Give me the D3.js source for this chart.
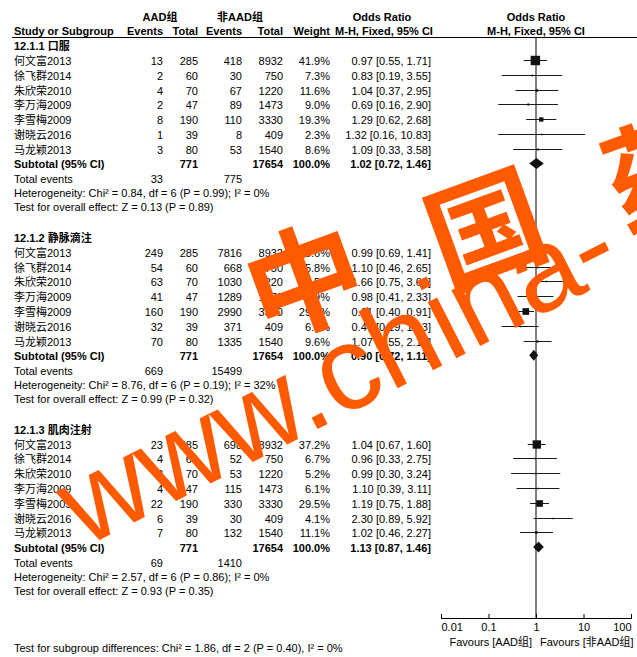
<!DOCTYPE html>
<html>
<head>
<meta charset="utf-8">
<script src="https://cdn.jsdelivr.net/npm/d3@7"></script>
<style>
  html, body { margin: 0; padding: 0; background: #fff; }
  svg { display: block; }
  text { font-family: "Liberation Sans", Arial, "Noto Sans CJK SC", sans-serif; font-size: 11px; fill: #000; }
  .b { font-weight: bold; }
</style>
</head>
<body>
<div id="chart"></div>
<script>
// ---- data ----
const groups = ['12.1.1 口服', '12.1.2 静脉滴注', '12.1.3 肌肉注射'];
const studies = ['何文富2013', '徐飞群2014', '朱欣荣2010', '李万海2009', '李雪梅2009', '谢晓云2016', '马龙颖2013'];

const aadTotal = [285, 60, 70, 47, 190, 39, 80];
const nonTotal = [8932, 750, 1220, 1473, 3330, 409, 1540];

const aadEvents = [
  [13, 2, 4, 2, 8, 1, 3],
  [249, 54, 63, 41, 160, 32, 70],
  [23, 4, 3, 4, 22, 6, 7]
];
const nonEvents = [
  [418, 30, 67, 89, 110, 8, 53],
  [7816, 668, 1030, 1289, 2990, 371, 1335],
  [698, 52, 53, 115, 330, 30, 132]
];
const weights = [
  [41.9, 7.3, 11.6, 9.0, 19.3, 2.3, 8.6],
  [35.6, 5.8, 6.5, 5.9, 29.7, 6.8, 9.6],
  [37.2, 6.7, 5.2, 6.1, 29.5, 4.1, 11.1]
];
const orMid = [
  [0.97, 0.83, 1.04, 0.69, 1.29, 1.32, 1.09],
  [0.99, 1.10, 1.66, 0.98, 0.61, 0.47, 1.07],
  [1.04, 0.96, 0.99, 1.10, 1.19, 2.30, 1.02]
];
const orLow = [
  [0.55, 0.19, 0.37, 0.16, 0.62, 0.16, 0.33],
  [0.69, 0.46, 0.75, 0.41, 0.40, 0.19, 0.55],
  [0.67, 0.33, 0.30, 0.39, 0.75, 0.89, 0.46]
];
const orHigh = [
  [1.71, 3.55, 2.95, 2.90, 2.68, 10.83, 3.58],
  [1.41, 2.65, 3.68, 2.33, 0.91, 1.13, 2.12],
  [1.60, 2.75, 3.24, 3.11, 1.88, 5.92, 2.27]
];
const subMid = [1.02, 0.90, 1.13];
const subLow = [0.72, 0.72, 0.87];
const subHigh = [1.46, 1.11, 1.46];
const totalAadEvents = [33, 669, 69];
const totalNonEvents = [775, 15499, 1410];
const heterogeneity = [
  'Heterogeneity: Chi² = 0.84, df = 6 (P = 0.99); I² = 0%',
  'Heterogeneity: Chi² = 8.76, df = 6 (P = 0.19); I² = 32%',
  'Heterogeneity: Chi² = 2.57, df = 6 (P = 0.86); I² = 0%'
];
const overallEffect = [
  'Test for overall effect: Z = 0.13 (P = 0.89)',
  'Test for overall effect: Z = 0.99 (P = 0.32)',
  'Test for overall effect: Z = 0.93 (P = 0.35)'
];
const subgroupTest = 'Test for subgroup differences: Chi² = 1.86, df = 2 (P = 0.40), I² = 0%';
const axisTicks = [0.01, 0.1, 1, 10, 100];

// ---- layout ----
const W = 637, H = 657;
const col = { name: 14, ev1: 163, tot1: 198, ev2: 242, tot2: 283, wt: 330, or: 431 };
const sectionStep = 191.8, headTop = 50, rowStep = 14.8;
const axisY = 618;

const svg = d3.select('#chart').append('svg').attr('width', W).attr('height', H);
const x = d3.scaleLog().domain([0.01, 100]).range([441, 631]);
const fmt2 = d3.format('.2f');
const orText = (m, l, h) => `${fmt2(m)} [${fmt2(l)}, ${fmt2(h)}]`;

function txt(g, xx, yy, s, anchor, bold) {
  return g.append('text').attr('x', xx).attr('y', yy).attr('text-anchor', anchor || 'start')
    .attr('class', bold ? 'b' : null).text(s);
}

// header
const hd = svg.append('g');
txt(hd, 160, 21, 'AAD组', 'middle', true);
txt(hd, 240, 21, '非AAD组', 'middle', true);
txt(hd, 382, 21, 'Odds Ratio', 'middle', true);
txt(hd, 536, 21, 'Odds Ratio', 'middle', true);
txt(hd, col.name, 35, 'Study or Subgroup', 'start', true);
txt(hd, col.ev1, 35, 'Events', 'end', true);
txt(hd, col.tot1, 35, 'Total', 'end', true);
txt(hd, col.ev2, 35, 'Events', 'end', true);
txt(hd, col.tot2, 35, 'Total', 'end', true);
txt(hd, col.wt, 35, 'Weight', 'end', true);
txt(hd, 384, 35, 'M-H, Fixed, 95% CI', 'middle', true);
txt(hd, 536, 35, 'M-H, Fixed, 95% CI', 'middle', true);
hd.append('line').attr('x1', 12).attr('x2', W).attr('y1', 37.5).attr('y2', 37.5)
  .attr('stroke', '#000').attr('stroke-width', 1);

// line of no effect
svg.append('line').attr('x1', x(1)).attr('x2', x(1)).attr('y1', 37.5).attr('y2', axisY)
  .attr('stroke', '#000').attr('stroke-width', 1);

groups.forEach((gname, s) => {
  const g = svg.append('g');
  const hb = headTop + s * sectionStep;
  txt(g, col.name, hb, gname, 'start', true);

  studies.forEach((st, i) => {
    const yb = hb + 15 + i * rowStep;
    txt(g, col.name, yb, st);
    txt(g, col.ev1, yb, aadEvents[s][i], 'end');
    txt(g, col.tot1, yb, aadTotal[i], 'end');
    txt(g, col.ev2, yb, nonEvents[s][i], 'end');
    txt(g, col.tot2, yb, nonTotal[i], 'end');
    txt(g, col.wt, yb, weights[s][i].toFixed(1) + '%', 'end');
    txt(g, col.or, yb, orText(orMid[s][i], orLow[s][i], orHigh[s][i]), 'end');

    const cy = Math.round(yb - 5) + 0.5;
    g.append('line').attr('x1', x(orLow[s][i])).attr('x2', x(orHigh[s][i]))
      .attr('y1', cy).attr('y2', cy).attr('stroke', '#1a1a1a').attr('stroke-width', 1);
    const sz = Math.max(1.5, weights[s][i] * 0.225);
    g.append('rect').attr('x', x(orMid[s][i]) - sz / 2).attr('y', cy - sz / 2)
      .attr('width', sz).attr('height', sz).attr('fill', '#111');
  });

  const ys = hb + 118;
  txt(g, col.name, ys, 'Subtotal (95% CI)', 'start', true);
  txt(g, col.tot1, ys, d3.sum(aadTotal), 'end', true);
  txt(g, col.tot2, ys, d3.sum(nonTotal), 'end', true);
  txt(g, col.wt, ys, '100.0%', 'end', true);
  txt(g, col.or, ys, orText(subMid[s], subLow[s], subHigh[s]), 'end', true);
  const dy = ys - 4.5;
  g.append('path')
    .attr('d', `M${x(subLow[s])},${dy} L${x(subMid[s])},${dy - 5.5} L${x(subHigh[s])},${dy} L${x(subMid[s])},${dy + 5.5} Z`)
    .attr('fill', '#111');

  txt(g, col.name, hb + 133, 'Total events');
  txt(g, col.ev1, hb + 133, totalAadEvents[s], 'end');
  txt(g, col.ev2, hb + 133, totalNonEvents[s], 'end');
  txt(g, col.name, hb + 147, heterogeneity[s]);
  txt(g, col.name, hb + 161, overallEffect[s]);
});

// axis
const ax = svg.append('g').attr('transform', `translate(0,${axisY})`)
  .call(d3.axisBottom(x).tickValues(axisTicks).tickSize(-4).tickSizeOuter(0).tickPadding(5)
    .tickFormat(d => String(d)));
ax.select('.domain').attr('stroke', '#000');
ax.selectAll('.tick line').attr('stroke', '#000').attr('y2', -4).attr('y1', 1);
ax.selectAll('.tick text').attr('font-size', 11).attr('font-family', null).attr('fill', '#000')
  .attr('text-anchor', (d, i) => i === 0 ? 'start' : i === axisTicks.length - 1 ? 'end' : 'middle');

txt(svg, x(1) - 4, 646, 'Favours [AAD组]', 'end');
txt(svg, x(1) + 4, 646, 'Favours [非AAD组]', 'start');
txt(svg, col.name, 652, subgroupTest);

// watermark
const wm = svg.append('g').attr('pointer-events', 'none');
const wmChars = [['中', 305, 282], ['国', 486, 230], ['药', 664, 172]];
wmChars.forEach(([c, cx, cy]) => {
  wm.append('text').attr('transform', `translate(${cx},${cy}) rotate(-20)`)
    .attr('text-anchor', 'middle').attr('dy', '0.36em')
    .style('font-family', '"Noto Sans CJK SC", sans-serif').style('font-weight', 'bold')
    .style('font-size', '116px').style('fill', '#ff5a00').text(c);
});
wm.append('text').attr('transform', 'translate(84,548) rotate(-27)')
  .style('font-family', '"Liberation Sans", Arial, sans-serif')
  .style('font-size', '119px').style('fill', '#ff5a00').text('www.china-');
</script>
</body>
</html>
